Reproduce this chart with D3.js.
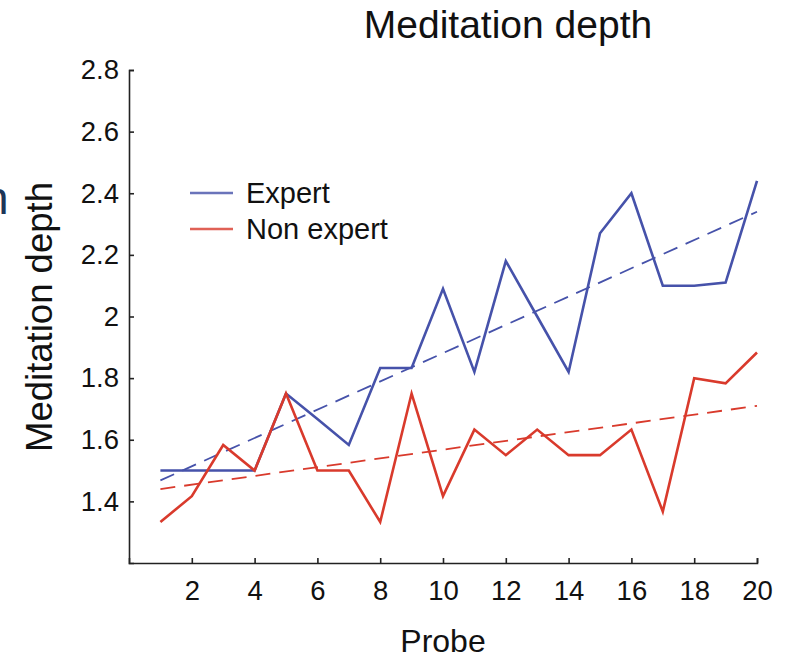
<!DOCTYPE html>
<html><head><meta charset="utf-8">
<script src="https://cdn.jsdelivr.net/npm/d3@7"></script>
<style>body{margin:0;background:#fff}svg{display:block}text{font-family:"Liberation Sans",Arial,sans-serif;fill:#111}</style>
</head><body>
<svg id="c" width="785" height="660"></svg>
<script>
const probes = [1,2,3,4,5,6,7,8,9,10,11,12,13,14,15,16,17,18,19,20];
const expert = [1.5,1.5,1.5,1.5,1.75,1.667,1.583,1.833,1.833,2.09,1.82,2.18,2.0,1.82,2.27,2.4,2.1,2.1,2.11,2.44];
const nonExpert = [1.333,1.417,1.583,1.5,1.75,1.5,1.5,1.333,1.75,1.417,1.633,1.55,1.633,1.55,1.55,1.633,1.367,1.8,1.783,1.883];
const trendX = [1,20];
const expertTrend = [1.468,2.34];
const nonExpertTrend = [1.44,1.71];
const xTicks = [2,4,6,8,10,12,14,16,18,20];
const yTicks = [1.4,1.6,1.8,2.0,2.2,2.4,2.6,2.8];
const seriesNames = ["Expert","Non expert"];
const colors = ["#4652aa","#d93a2c"];

const svg = d3.select("#c");
const x = d3.scaleLinear().domain([0,20]).range([129,757]);
const y = d3.scaleLinear().domain([1.2,2.8]).range([563,70]);

// axes
const xAxis = svg.append("g").attr("transform",`translate(0,${y(1.2)})`)
  .call(d3.axisBottom(x).tickValues(xTicks).tickSizeInner(-5).tickSizeOuter(-5).tickPadding(17).tickFormat(d3.format("d")));
const yAxis = svg.append("g").attr("transform",`translate(${x(0)},0)`)
  .call(d3.axisLeft(y).tickValues(yTicks).tickSizeInner(-5).tickSizeOuter(-5).tickPadding(10).tickFormat(d=>d===2?"2":d3.format(".1f")(d)));
[xAxis,yAxis].forEach(a=>{
  a.selectAll("path,line").attr("stroke","#222").attr("stroke-width",1.6);
  a.selectAll("text").style("font-size","27.5px").style("font-family","'Liberation Sans',Arial,sans-serif").attr("fill","#1a1a1a");
});

const line = d3.line().x((d,i)=>x(probes[i])).y(d=>y(d));
const tline = d3.line().x((d,i)=>x(trendX[i])).y(d=>y(d));

[expertTrend,nonExpertTrend].forEach((t,k)=>{
  svg.append("path").datum(t).attr("d",tline).attr("fill","none")
    .attr("stroke",colors[k]).attr("stroke-width",1.8).attr("stroke-dasharray","15,9");
});
[expert,nonExpert].forEach((s,k)=>{
  svg.append("path").datum(s).attr("d",line).attr("fill","none")
    .attr("stroke",colors[k]).attr("stroke-width",2.6).attr("stroke-linejoin","miter");
});

// legend
seriesNames.forEach((n,k)=>{
  const ly = 193 + k*36;
  svg.append("line").attr("x1",190).attr("x2",233).attr("y1",ly).attr("y2",ly)
    .attr("stroke",colors[k]).attr("stroke-width",2.4).attr("opacity",0.8);
  svg.append("text").attr("x",246).attr("y",ly+10).style("font-size","29px").text(n);
});

// titles
svg.append("text").attr("x",508).attr("y",38).attr("text-anchor","middle").style("font-size","39px").text("Meditation depth");
svg.append("text").attr("transform","translate(52,317) rotate(-90)").attr("text-anchor","middle").style("font-size","36.5px").text("Meditation depth");
svg.append("text").attr("x",443).attr("y",652).attr("text-anchor","middle").style("font-size","32px").text("Probe");
// cropped glyph at left edge (as in the reference)
svg.append("text").attr("x",-17).attr("y",214).style("font-size","46px").style("fill","#1d3557").text("n");
</script>
</body></html>
